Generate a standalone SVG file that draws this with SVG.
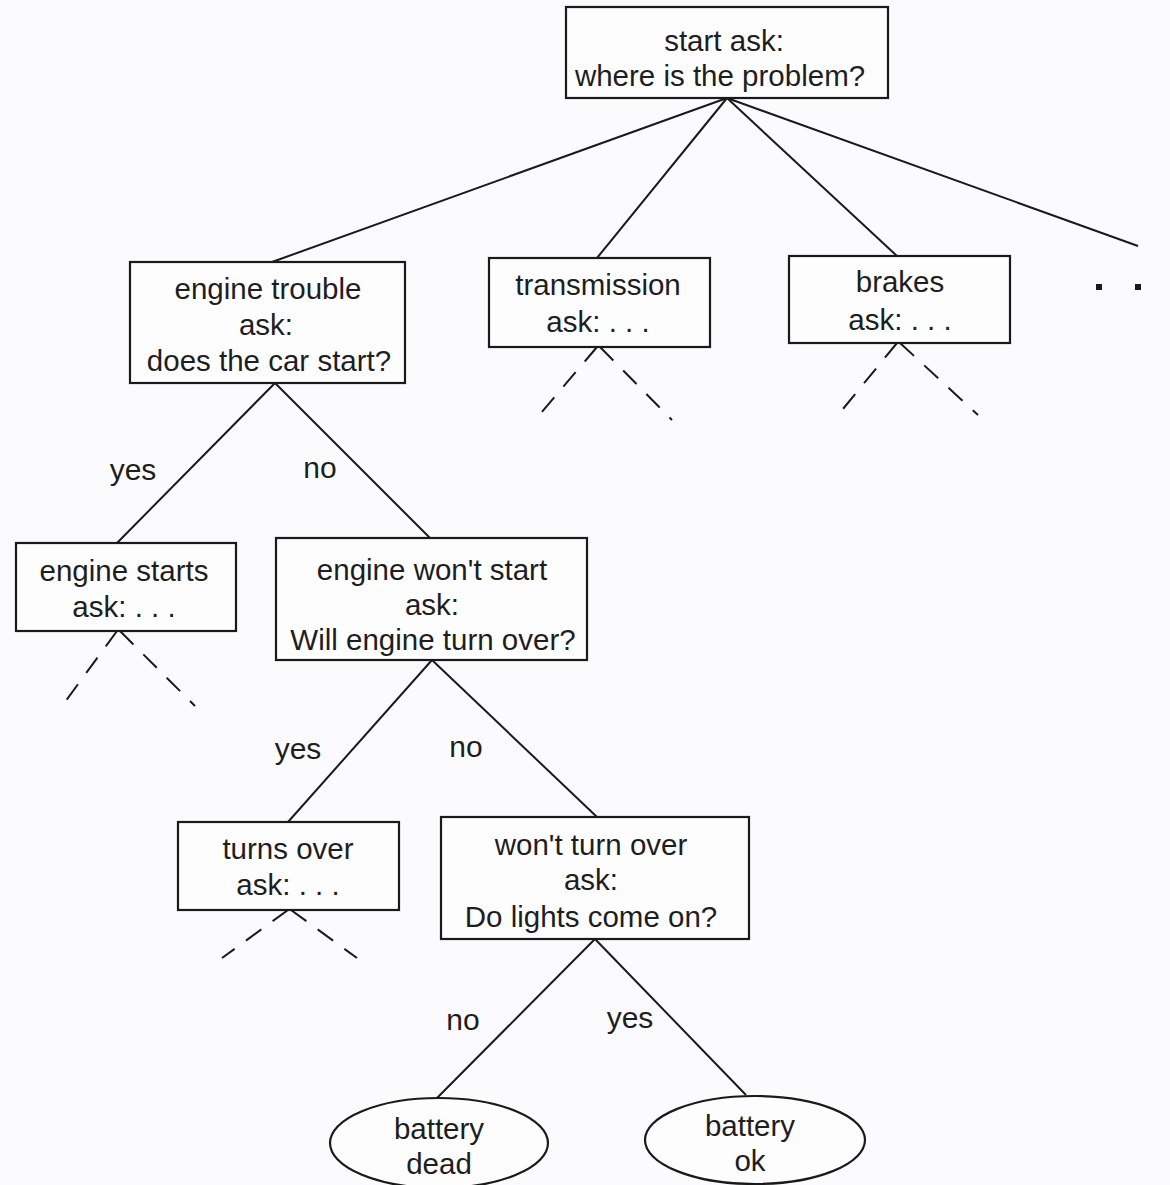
<svg xmlns="http://www.w3.org/2000/svg" width="1170" height="1185" viewBox="0 0 1170 1185">
<style>
.box{fill:#fdfdfe;stroke:#1a1a1a;stroke-width:2.2}
.t{font-family:"Liberation Sans",Arial,sans-serif;font-size:29.5px;fill:#1e1e1e;text-anchor:middle}
.lab{font-family:"Liberation Sans",Arial,sans-serif;font-size:30px;fill:#1e1e1e;text-anchor:middle}
.e{stroke:#1a1a1a;stroke-width:2;fill:none}
.d{stroke:#1a1a1a;stroke-width:2;fill:none;stroke-dasharray:19 14}
</style>
<rect width="1170" height="1185" fill="#fbfbfd"/>
<g id="connectors">
<line class="e" x1="727" y1="98" x2="272" y2="262"/>
<line class="e" x1="727" y1="98" x2="597" y2="258"/>
<line class="e" x1="727" y1="98" x2="897" y2="256"/>
<line class="e" x1="727" y1="98" x2="1138" y2="246"/>
<rect x="1096" y="284" width="6" height="6" fill="#1a1a1a"/>
<rect x="1135" y="284" width="6" height="6" fill="#1a1a1a"/>
<line class="e" x1="275" y1="383" x2="117" y2="543"/>
<line class="e" x1="275" y1="383" x2="430" y2="538"/>
<text class="lab" x="133" y="480">yes</text>
<text class="lab" x="320" y="478">no</text>
<line class="e" x1="432" y1="660" x2="288" y2="822"/>
<line class="e" x1="432" y1="660" x2="597" y2="817"/>
<text class="lab" x="298" y="759">yes</text>
<text class="lab" x="466" y="757">no</text>
<line class="e" x1="595" y1="939" x2="437" y2="1098"/>
<line class="e" x1="595" y1="939" x2="746" y2="1095"/>
<text class="lab" x="463" y="1030">no</text>
<text class="lab" x="630" y="1028">yes</text>
<line class="d" x1="597" y1="347" x2="535" y2="420"/>
<line class="d" x1="600" y1="347" x2="672" y2="420"/>
<line class="d" x1="897" y1="343" x2="838" y2="415"/>
<line class="d" x1="900" y1="343" x2="978" y2="415"/>
<line class="d" x1="117" y1="631" x2="62" y2="706"/>
<line class="d" x1="120" y1="631" x2="195" y2="706"/>
<line class="d" x1="288" y1="910" x2="222" y2="958"/>
<line class="d" x1="291" y1="910" x2="357" y2="958"/>
</g>
<g id="start">
<rect class="box" x="566" y="7" width="322" height="91"/>
<text class="t" x="724" y="51">start ask:</text>
<text class="t" x="720" y="86">where is the problem?</text>
</g>
<g id="engine-trouble">
<rect class="box" x="130" y="262" width="275" height="121"/>
<text class="t" x="268" y="299">engine trouble</text>
<text class="t" x="266" y="335">ask:</text>
<text class="t" x="269" y="371">does the car start?</text>
</g>
<g id="transmission">
<rect class="box" x="489" y="258" width="221" height="89"/>
<text class="t" x="598" y="295">transmission</text>
<text class="t" x="598" y="332">ask: . . .</text>
</g>
<g id="brakes">
<rect class="box" x="789" y="256" width="221" height="87"/>
<text class="t" x="900" y="292">brakes</text>
<text class="t" x="900" y="330">ask: . . .</text>
</g>
<g id="engine-starts">
<rect class="box" x="16" y="543" width="220" height="88"/>
<text class="t" x="124" y="581">engine starts</text>
<text class="t" x="124" y="617">ask: . . .</text>
</g>
<g id="engine-wont-start">
<rect class="box" x="276" y="538" width="311" height="122"/>
<text class="t" x="432" y="580">engine won't start</text>
<text class="t" x="432" y="615">ask:</text>
<text class="t" x="433" y="650">Will engine turn over?</text>
</g>
<g id="turns-over">
<rect class="box" x="178" y="822" width="221" height="88"/>
<text class="t" x="288" y="859">turns over</text>
<text class="t" x="288" y="895">ask: . . .</text>
</g>
<g id="wont-turn-over">
<rect class="box" x="441" y="817" width="308" height="122"/>
<text class="t" x="591" y="855">won't turn over</text>
<text class="t" x="591" y="890">ask:</text>
<text class="t" x="591" y="927">Do lights come on?</text>
</g>
<g id="battery-dead">
<ellipse class="box" cx="439" cy="1143" rx="109" ry="45"/>
<text class="t" x="439" y="1139">battery</text>
<text class="t" x="439" y="1174">dead</text>
</g>
<g id="battery-ok">
<ellipse class="box" cx="755" cy="1140" rx="110" ry="44"/>
<text class="t" x="750" y="1136">battery</text>
<text class="t" x="750" y="1171">ok</text>
</g>
</svg>
